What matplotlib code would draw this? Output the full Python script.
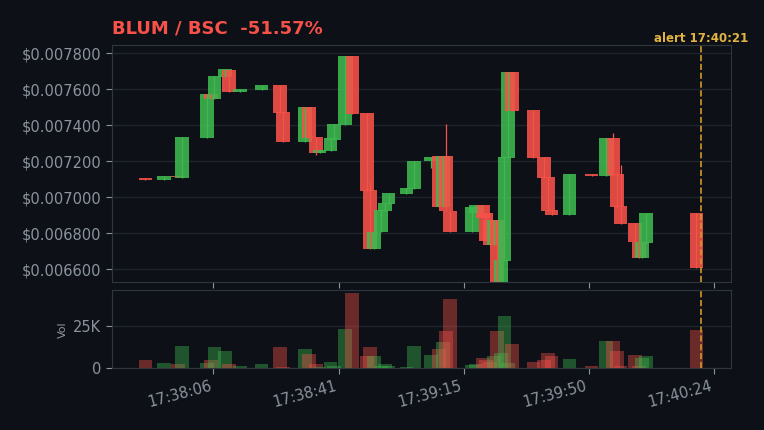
import matplotlib
matplotlib.use("Agg")
import matplotlib.pyplot as plt
from matplotlib.ticker import FuncFormatter

# ── data: seconds after 17:38:00, OHLC, volume ─────────────────────────────
t_sec = [-12.7, -7.6, -3.7, -2.6, 4.3, 5.4, 6.3, 9.2, 10.3, 13.4,
         19.3, 24.4, 25.2, 31.3, 32.4, 34.3, 35.3, 38.3, 39.2, 42.3,
         44.2, 48.3, 49.2, 50.3, 52.2, 53.3, 54.3, 59.2, 61.3, 66.0,
         68.2, 69.3, 70.1, 71.2, 77.3, 78.4, 80.3, 81.1, 82.2, 83.3,
         84.1, 85.2, 86.2, 87.2, 88.3, 94.2, 97.1, 98.2, 99.2, 104.1,
         110.2, 114.2, 116.1, 117.2, 118.2, 122.2, 123.3, 124.1, 125.2, 139.1]

opens = [0.007108, 0.007096, 0.007120, 0.007106, 0.007329, 0.007574, 0.007546, 0.007670, 0.007707, 0.007585,
         0.007597, 0.007624, 0.007473, 0.007307, 0.007500, 0.007335, 0.007246, 0.007257, 0.007320, 0.007401,
         0.007785, 0.007468, 0.007040, 0.006713, 0.006807, 0.006924, 0.006963, 0.007018, 0.007046, 0.007200,
         0.007229, 0.006946, 0.007229, 0.006924, 0.006807, 0.006913, 0.006960, 0.006913, 0.006874, 0.006735,
         0.006874, 0.006500, 0.006646, 0.007218, 0.007696, 0.007485, 0.007224, 0.007113, 0.006930, 0.006902,
         0.007130, 0.007120, 0.007330, 0.007130, 0.006952, 0.006857, 0.006752, 0.006663, 0.006746, 0.006913]

closes = [0.007098, 0.007118, 0.007110, 0.007335, 0.007574, 0.007546, 0.007674, 0.007710, 0.007585, 0.007601,
          0.007624, 0.007468, 0.007307, 0.007500, 0.007330, 0.007246, 0.007263, 0.007330, 0.007407, 0.007785,
          0.007462, 0.007035, 0.006713, 0.006807, 0.006930, 0.006968, 0.007024, 0.007050, 0.007201, 0.007222,
          0.006946, 0.007229, 0.006924, 0.006807, 0.006946, 0.006960, 0.006885, 0.006757, 0.006735, 0.006874,
          0.006500, 0.006652, 0.007224, 0.007696, 0.007479, 0.007218, 0.007107, 0.006924, 0.006902, 0.007130,
          0.007120, 0.007330, 0.007124, 0.006946, 0.006852, 0.006752, 0.006663, 0.006752, 0.006913, 0.006607]

highs = [0.007108, 0.007118, 0.007120, 0.007335, 0.007574, 0.007574, 0.007674, 0.007710, 0.007707, 0.007601,
         0.007624, 0.007624, 0.007473, 0.007500, 0.007500, 0.007335, 0.007263, 0.007330, 0.007407, 0.007785,
         0.007785, 0.007468, 0.007091, 0.006807, 0.006930, 0.006968, 0.007024, 0.007050, 0.007201, 0.007222,
         0.007229, 0.007229, 0.007407, 0.006924, 0.006946, 0.006960, 0.006960, 0.006913, 0.006874, 0.006874,
         0.006874, 0.006652, 0.007224, 0.007696, 0.007696, 0.007485, 0.007224, 0.007113, 0.006930, 0.007130,
         0.007130, 0.007330, 0.007357, 0.007130, 0.007180, 0.006857, 0.006752, 0.006752, 0.006913, 0.006913]

lows = [0.007098, 0.007096, 0.007110, 0.007106, 0.007329, 0.007546, 0.007546, 0.007670, 0.007585, 0.007585,
        0.007597, 0.007468, 0.007307, 0.007307, 0.007330, 0.007235, 0.007246, 0.007257, 0.007320, 0.007401,
        0.007462, 0.007035, 0.006713, 0.006713, 0.006807, 0.006924, 0.006963, 0.007018, 0.007046, 0.007163,
        0.006946, 0.006946, 0.006924, 0.006807, 0.006807, 0.006913, 0.006885, 0.006757, 0.006735, 0.006735,
        0.006500, 0.006500, 0.006646, 0.007218, 0.007479, 0.007218, 0.007107, 0.006924, 0.006902, 0.006902,
        0.007120, 0.007120, 0.007124, 0.006946, 0.006852, 0.006752, 0.006663, 0.006663, 0.006746, 0.006607]

volumes = [4800, 3000, 2400, 13200, 3000, 4800, 12600, 10200, 2400, 1200,
           2400, 12600, 600, 11400, 8400, 2400, 600, 3600, 1200, 23400,
           45000, 7200, 12600, 7200, 1200, 2400, 1200, 600, 13200, 7800,
           11400, 15600, 22200, 41400, 1800, 2400, 6000, 4800, 3600, 7200,
           22200, 9000, 31200, 3000, 14400, 3600, 4800, 9000, 7200, 5400,
           1200, 16200, 16200, 10200, 1200, 7800, 1200, 6000, 7200, 22800]

tick_pos = [6, 40.5, 75, 109.5, 144]
tick_labels = ["17:38:06", "17:38:41", "17:39:15", "17:39:50", "17:40:24"]
price_ticks = [0.0066, 0.0068, 0.0070, 0.0072, 0.0074, 0.0076, 0.0078]
alert_sec = 140.3
alert_label = "alert 17:40:21"
title = "BLUM / BSC  -51.57%"

# ── style ──────────────────────────────────────────────────────────────────
BG = "#0d1117"
GREEN = "#3fb950"
RED = "#f85149"
TXT = "#8b949e"
SPINE = "#30363d"
GRID = "#1f242c"
GOLD = "#d29922"
W = 3.75

colors = [GREEN if c >= o else RED for o, c in zip(opens, closes)]

fig = plt.figure(figsize=(7.64, 4.30), dpi=100, facecolor=BG)
ax = fig.add_axes([111.7 / 764, 1 - 282.3 / 430, 619.6 / 764, 237.0 / 430])
axv = fig.add_axes([111.7 / 764, 1 - 368.3 / 430, 619.6 / 764, 78.0 / 430], sharex=ax)

for a in (ax, axv):
    a.set_facecolor(BG)
    for s in a.spines.values():
        s.set_color(SPINE)
    a.tick_params(colors=TXT, labelsize=10.5, length=4)
    a.grid(axis="y", color=GRID, lw=1.0)
    a.set_axisbelow(True)

# candles
heights = [c - o for o, c in zip(opens, closes)]
ax.bar(t_sec, heights, bottom=opens, width=W, color=colors, alpha=0.88, zorder=2, lw=0)
ax.vlines(t_sec, lows, highs, colors=colors, lw=0.9, zorder=3)

ax.set_xlim(-22.0, 148.7)
ax.set_ylim(0.006528, 0.007844)
ax.set_yticks(price_ticks)
ax.yaxis.set_major_formatter(FuncFormatter(lambda v, p: f"${v:.6f}"))
ax.tick_params(labelbottom=False)
ax.set_title(title, loc="left", color=RED, fontsize=13, fontweight="bold", pad=8.5)

ax.axvline(alert_sec, color=GOLD, ls="--", lw=1.2, zorder=5)
ax.text(alert_sec, 0.007844, alert_label, color="#e3b341", fontsize=8.5, fontweight="bold",
        ha="center", va="bottom")

# volume
axv.bar(t_sec, volumes, width=W, color=colors, alpha=0.4, zorder=2, lw=0)
axv.axvline(alert_sec, color=GOLD, ls="--", lw=1.2, zorder=5)
axv.set_ylim(0, 46500)
axv.set_yticks([0, 25000])
axv.yaxis.set_major_formatter(FuncFormatter(lambda v, p: "0" if v == 0 else f"{v / 1000:.0f}K"))
axv.set_ylabel("Vol", color=TXT, fontsize=8)
axv.set_xticks(tick_pos)
axv.set_xticklabels(tick_labels, rotation=15, ha="right")

fig.savefig("out.png", dpi=100, facecolor=BG)
